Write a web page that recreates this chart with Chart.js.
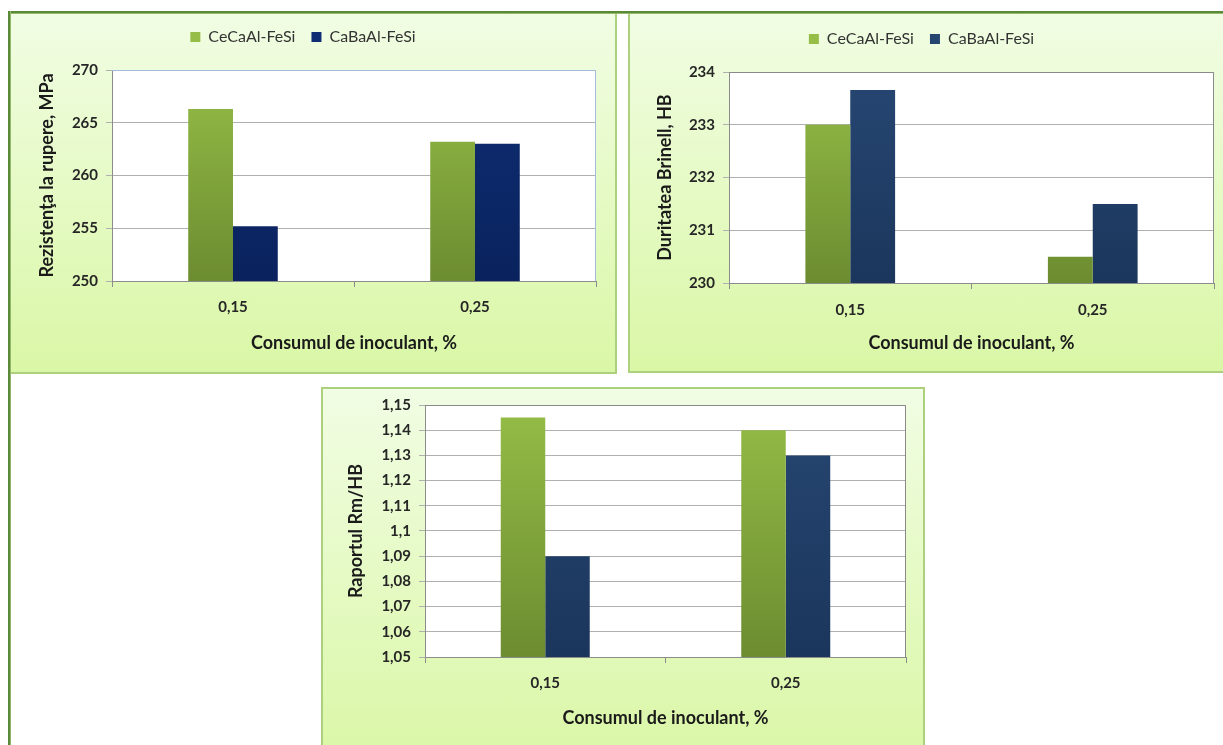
<!DOCTYPE html>
<html>
<head>
<meta charset="utf-8">
<script src="https://cdn.jsdelivr.net/npm/chart.js@4"></script>
<style>
  body { margin: 0; background: #fff; width: 1223px; height: 745px; overflow: hidden; position: relative; }
  .panel { position: absolute; box-sizing: border-box; background: linear-gradient(#f1fde4, #daf7a6); border: 0 solid #acd07e; }
  .frame { position: absolute; background: #5a8a38; }
  canvas { position: absolute; }
</style>
</head>
<body>
<div class="panel" style="left:10px;top:12px;width:607px;height:362px;border-right-width:2px;border-bottom-width:2px;"></div>
<div class="panel" style="left:628px;top:12px;width:600px;height:361px;border-left-width:2px;border-bottom-width:2px;"></div>
<div class="panel" style="left:321px;top:387px;width:604px;height:370px;border-left-width:2px;border-top-width:2px;border-right-width:2px;"></div>
<div class="frame" style="left:8px;top:11px;width:1220px;height:2px;border-bottom:1px solid #94b96c;"></div>
<div class="frame" style="left:8px;top:11px;width:2px;height:740px;border-right:1px solid #94b96c;"></div>

<canvas id="chartRm" width="606" height="361" style="left:10px;top:12px;"></canvas>
<canvas id="chartHb" width="594" height="360" style="left:629px;top:12px;"></canvas>
<canvas id="chartRatio" width="602" height="358" style="left:322px;top:387px;"></canvas>

<script>
var categories = ['0,15', '0,25'];
var seriesNames = ['CeCaAl-FeSi', 'CaBaAl-FeSi'];

var rmCeCa = [266.3, 263.2];
var rmCaBa = [255.2, 263.0];
var rmTicks = ['250', '255', '260', '265', '270'];

var hbCeCa = [233.0, 230.5];
var hbCaBa = [233.66, 231.5];
var hbTicks = ['230', '231', '232', '233', '234'];

var ratioCeCa = [1.145, 1.14];
var ratioCaBa = [1.09, 1.13];
var ratioTicks = ['1,05', '1,06', '1,07', '1,08', '1,09', '1,1', '1,11', '1,12', '1,13', '1,14', '1,15'];

var xTitle = 'Consumul de inoculant, %';

Chart.defaults.font.family = 'Lato';
Chart.defaults.color = '#262626';

function barFill(top, bottom) {
    return function (ctx) {
        var a = ctx.chart.chartArea;
        if (!a) return bottom;
        var g = ctx.chart.ctx.createLinearGradient(0, a.top, 0, a.bottom);
        g.addColorStop(0, top);
        g.addColorStop(1, bottom);
        return g;
    };
}

function tickValue(label) {
    return parseFloat(label.replace(',', '.'));
}

// white plot area with a thin frame on top/right
function plotFrame(color) {
    return {
        id: 'plotFrame',
        beforeDraw: function (chart) {
            var a = chart.chartArea, c = chart.ctx;
            c.save();
            c.fillStyle = '#ffffff';
            c.fillRect(a.left, a.top, a.right - a.left, a.bottom - a.top);
            c.restore();
        },
        afterDraw: function (chart) {
            var a = chart.chartArea, c = chart.ctx;
            c.save();
            c.strokeStyle = color;
            c.lineWidth = 1;
            c.beginPath();
            c.moveTo(a.left, a.top + 0.5);
            c.lineTo(a.right - 0.5, a.top + 0.5);
            c.lineTo(a.right - 0.5, a.bottom);
            c.stroke();
            c.restore();
        }
    };
}

// extra space under the legend
function legendGap(gap) {
    return {
        id: 'legendGap',
        beforeInit: function (chart) {
            var fit = chart.legend.fit;
            chart.legend.fit = function () {
                fit.call(this);
                this.height += gap;
            };
        }
    };
}

function makeChart(id, s) {
    var plugins = [plotFrame(s.frameColor)];
    if (s.legend) plugins.push(legendGap(s.legendGap));
    return new Chart(document.getElementById(id), {
        type: 'bar',
        data: {
            labels: categories,
            datasets: [
                {
                    label: seriesNames[0],
                    data: s.a,
                    backgroundColor: barFill('#95bd47', '#6c8c30'),
                    categoryPercentage: 0.37,
                    barPercentage: 1
                },
                {
                    label: seriesNames[1],
                    data: s.b,
                    backgroundColor: barFill(s.blueTop, s.blueBottom),
                    categoryPercentage: 0.37,
                    barPercentage: 1
                }
            ]
        },
        options: {
            responsive: false,
            animation: false,
            layout: { padding: s.padding },
            plugins: {
                legend: {
                    display: s.legend,
                    position: 'top',
                    labels: {
                        boxWidth: 10,
                        boxHeight: 10,
                        padding: 16,
                        color: '#333333',
                        font: { size: 16 }
                    }
                },
                tooltip: { enabled: false }
            },
            scales: {
                x: {
                    afterFit: function (scale) { scale.height = s.xHeight; },
                    grid: {
                        offset: true,
                        drawOnChartArea: false,
                        tickLength: 6,
                        color: '#8c8c8c'
                    },
                    border: { color: '#8c8c8c' },
                    ticks: { padding: s.xTickPad, font: { size: 15, weight: 'bold' }, color: '#262626' },
                    title: {
                        display: true,
                        text: xTitle,
                        color: '#1a1a1a',
                        font: { size: 18, weight: 'bold' },
                        padding: { top: 0, bottom: s.xTitlePad }
                    }
                },
                y: {
                    min: tickValue(s.ticks[0]),
                    max: tickValue(s.ticks[s.ticks.length - 1]),
                    afterFit: function (scale) { scale.width = s.yWidth; },
                    afterBuildTicks: function (scale) {
                        scale.ticks = s.ticks.map(function (t) { return { value: tickValue(t) }; });
                    },
                    grid: { color: '#b0b0b0', tickLength: 6 },
                    border: { color: '#8c8c8c' },
                    ticks: {
                        padding: 8,
                        font: { size: 15, weight: 'bold' },
                        color: '#262626',
                        callback: function (v, i) { return s.ticks[i]; }
                    },
                    title: {
                        display: true,
                        text: s.yTitle,
                        color: '#1a1a1a',
                        font: { size: 18, weight: 'bold' },
                        padding: { top: s.yTitlePad, bottom: 0 }
                    }
                }
            }
        },
        plugins: plugins
    });
}

makeChart('chartRm', {
    a: rmCeCa, b: rmCaBa, ticks: rmTicks,
    yTitle: 'Rezistenţa la rupere, MPa',
    blueTop: '#0e2d72', blueBottom: '#0a235e',
    frameColor: '#a3bddf',
    legend: true, legendGap: 15,
    padding: { top: 1, left: 0, right: 20, bottom: 0 },
    yWidth: 102, xHeight: 92, xTickPad: 11, xTitlePad: 19, yTitlePad: 26
});

makeChart('chartHb', {
    a: hbCeCa, b: hbCaBa, ticks: hbTicks,
    yTitle: 'Duritatea Brinell, HB',
    blueTop: '#264672', blueBottom: '#1b365c',
    frameColor: '#8a8a8a',
    legend: true, legendGap: 15,
    padding: { top: 3, left: 0, right: 9, bottom: 0 },
    yWidth: 100, xHeight: 89, xTickPad: 12, xTitlePad: 18, yTitlePad: 25
});

makeChart('chartRatio', {
    a: ratioCeCa, b: ratioCaBa, ticks: ratioTicks,
    yTitle: 'Raportul Rm/HB',
    blueTop: '#264672', blueBottom: '#1b365c',
    frameColor: '#8a8a8a',
    legend: false,
    padding: { top: 18, left: 0, right: 18, bottom: 0 },
    yWidth: 103, xHeight: 88, xTickPad: 11, xTitlePad: 16, yTitlePad: 23
});
</script>
</body>
</html>
